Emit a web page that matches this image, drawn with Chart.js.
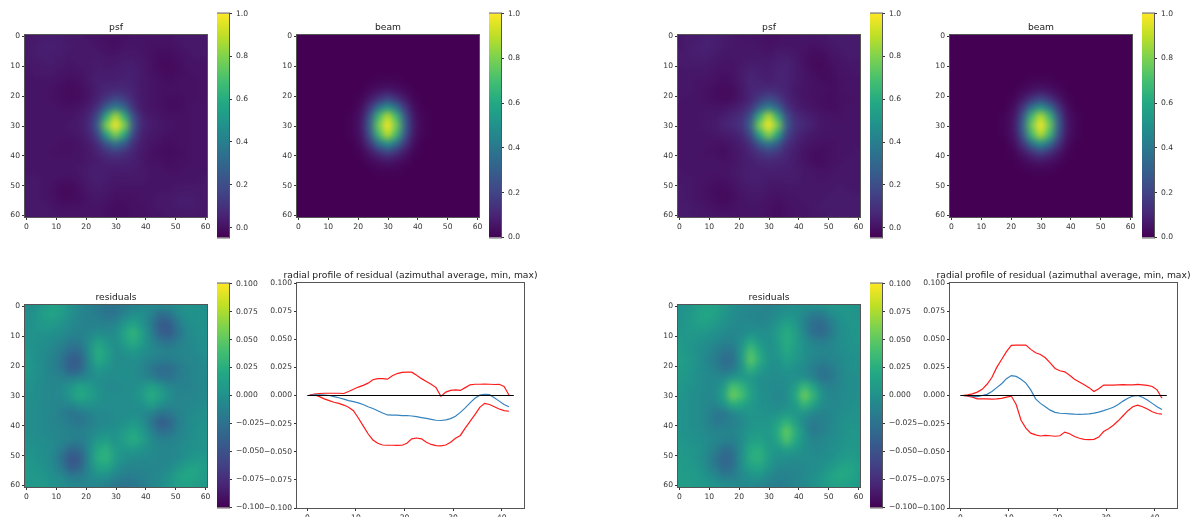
<!DOCTYPE html>
<html>
<head>
<meta charset="utf-8">
<title>psf / beam / residuals</title>
<script src="https://cdn.jsdelivr.net/npm/chart.js@4/dist/chart.umd.min.js"></script>
<style>
html, body { margin: 0; padding: 0; background: #fff; width: 1200px; height: 517px; overflow: hidden; }
canvas { position: absolute; }
</style>
</head>
<body>
<script>
const gridAxis = [0, 3, 6, 9, 12, 15, 18, 21, 24, 27, 30, 33, 36, 39, 42, 45, 48, 51, 54, 57, 60];

// percent of peak
const psfLeft = [
  [2,2,3,3,3,2,2,1,1,0,0,0,1,1,1,1,1,2,2,2,2],
  [2,3,4,4,3,3,2,2,1,0,-1,1,1,1,0,0,0,1,2,2,2],
  [2,3,4,3,3,2,2,2,2,1,1,2,2,1,0,-1,-1,0,1,2,2],
  [2,2,3,3,2,1,2,2,3,2,2,3,3,2,0,-2,-2,-1,1,1,1],
  [1,2,2,2,1,1,1,2,3,3,3,4,4,2,0,-1,-2,-1,0,1,1],
  [1,1,1,1,0,-1,0,2,4,4,4,5,4,2,1,0,-1,0,0,0,1],
  [1,1,1,0,-1,-2,-1,1,4,6,7,7,5,2,1,0,0,0,0,0,1],
  [1,1,1,0,-1,-2,-1,1,5,12,18,14,6,2,1,0,-1,-1,0,0,1],
  [1,1,1,1,0,0,1,3,10,28,40,30,10,2,1,0,-1,-1,0,1,1],
  [1,1,1,1,1,1,2,6,20,60,88,62,20,5,2,1,0,0,0,1,1],
  [1,1,1,1,1,2,3,7,26,80,100,80,24,6,3,2,1,0,0,1,1],
  [1,1,1,1,1,1,2,5,18,56,80,58,17,4,2,1,0,0,0,1,1],
  [1,1,1,1,0,0,1,3,9,24,36,26,9,3,1,0,-1,0,0,1,1],
  [1,1,1,0,0,0,1,2,5,10,14,10,5,2,0,-1,-1,-1,0,1,1],
  [1,1,1,1,1,1,1,2,3,5,5,5,4,2,0,0,-1,0,0,1,1],
  [1,1,1,1,1,1,2,3,4,3,3,3,3,2,1,1,0,0,1,1,1],
  [2,2,1,1,0,0,1,3,4,3,2,2,2,2,1,1,1,1,1,1,2],
  [2,2,1,0,-2,-2,0,2,3,2,1,1,1,1,1,1,1,2,2,2,2],
  [2,2,1,0,-2,-2,-1,1,2,1,0,0,0,1,1,2,2,3,3,3,2],
  [2,2,2,1,0,0,0,1,1,0,-1,-1,0,0,1,2,2,3,3,3,2],
  [2,2,2,2,1,1,1,1,1,0,-1,-1,0,0,1,1,2,2,2,2,2]
];
const psfRight = [
  [2,3,3,4,4,3,2,1,1,1,0,0,1,1,2,2,2,3,3,3,3],
  [2,3,4,5,4,3,2,2,2,1,0,1,1,1,1,0,1,2,3,3,3],
  [3,3,4,4,3,2,2,2,2,2,1,3,3,2,0,-1,-1,1,2,3,3],
  [3,3,3,3,2,1,1,2,3,3,3,4,5,3,0,-2,-2,0,1,2,2],
  [2,2,2,2,1,0,1,3,5,4,3,5,5,3,1,-1,-2,-1,1,1,2],
  [2,2,1,1,0,-1,0,3,6,5,4,5,5,3,1,0,-1,-1,0,1,1],
  [2,2,1,0,-1,-2,-1,2,6,7,8,7,5,2,1,0,0,-1,0,1,1],
  [2,1,1,0,-1,-2,-1,2,6,13,19,14,6,3,1,0,-1,-1,0,0,1],
  [1,1,1,1,1,1,3,5,11,28,42,30,11,4,2,1,0,-1,0,1,1],
  [1,1,1,2,2,4,6,9,22,62,90,62,21,8,5,3,1,1,0,1,1],
  [1,1,1,2,3,5,7,11,28,80,100,80,26,10,7,4,2,1,1,1,1],
  [1,1,1,1,2,3,4,7,19,58,82,58,18,7,4,2,1,1,1,1,1],
  [1,1,1,1,0,0,2,4,10,26,38,27,10,5,2,1,0,0,1,1,1],
  [1,1,1,0,0,-1,1,3,6,11,15,12,6,3,1,-1,-1,0,1,1,2],
  [1,1,1,1,1,0,1,3,4,6,7,6,5,3,1,-1,-1,0,1,2,2],
  [2,1,1,1,1,1,2,3,4,4,4,4,4,3,2,1,0,1,2,2,2],
  [2,2,1,1,0,0,1,3,4,4,3,3,3,3,2,2,1,2,2,2,2],
  [3,2,1,0,-1,-1,0,2,3,3,2,1,2,2,2,2,2,2,3,2,2],
  [3,2,1,0,-1,-2,-1,1,2,2,1,0,1,1,2,2,2,3,3,3,3],
  [3,3,2,1,0,-1,0,1,1,1,0,-1,0,1,1,2,3,3,3,3,3],
  [3,3,2,2,1,1,1,1,1,1,0,-1,0,1,1,2,2,3,3,3,3]
];
const beamValues = [
  [0,0,0,0,0,0,0,0,0,0,0,0,0,0,0,0,0,0,0,0,0],
  [0,0,0,0,0,0,0,0,0,0,0,0,0,0,0,0,0,0,0,0,0],
  [0,0,0,0,0,0,0,0,0,0,0,0,0,0,0,0,0,0,0,0,0],
  [0,0,0,0,0,0,0,0,0,0,0,0,0,0,0,0,0,0,0,0,0],
  [0,0,0,0,0,0,0,0,0,0,0,0,0,0,0,0,0,0,0,0,0],
  [0,0,0,0,0,0,0,0,0,1,1,1,0,0,0,0,0,0,0,0,0],
  [0,0,0,0,0,0,0,0,2,4,6,4,2,0,0,0,0,0,0,0,0],
  [0,0,0,0,0,0,0,1,6,14,20,14,6,1,0,0,0,0,0,0,0],
  [0,0,0,0,0,0,0,3,15,38,52,38,15,3,0,0,0,0,0,0,0],
  [0,0,0,0,0,0,1,5,26,68,90,68,26,5,1,0,0,0,0,0,0],
  [0,0,0,0,0,0,1,6,30,78,100,78,30,6,1,0,0,0,0,0,0],
  [0,0,0,0,0,0,1,5,26,68,90,68,26,5,1,0,0,0,0,0,0],
  [0,0,0,0,0,0,0,3,15,38,52,38,15,3,0,0,0,0,0,0,0],
  [0,0,0,0,0,0,0,1,6,14,20,14,6,1,0,0,0,0,0,0,0],
  [0,0,0,0,0,0,0,0,2,4,6,4,2,0,0,0,0,0,0,0,0],
  [0,0,0,0,0,0,0,0,0,1,1,1,0,0,0,0,0,0,0,0,0],
  [0,0,0,0,0,0,0,0,0,0,0,0,0,0,0,0,0,0,0,0,0],
  [0,0,0,0,0,0,0,0,0,0,0,0,0,0,0,0,0,0,0,0,0],
  [0,0,0,0,0,0,0,0,0,0,0,0,0,0,0,0,0,0,0,0,0],
  [0,0,0,0,0,0,0,0,0,0,0,0,0,0,0,0,0,0,0,0,0],
  [0,0,0,0,0,0,0,0,0,0,0,0,0,0,0,0,0,0,0,0,0]
];

// thousandths
const residualsLeft = [
  [-5,-2,8,14,10,0,-8,-14,-18,-24,-24,-18,-12,-8,-6,-6,-6,-2,2,0,-2],
  [-4,2,12,16,10,-2,-10,-14,-16,-24,-22,-10,-2,-2,-12,-32,-26,-8,0,2,0],
  [-2,2,8,8,2,-6,-10,-12,-12,-14,-10,6,16,2,-18,-42,-42,-18,-4,0,0],
  [0,2,2,0,-4,-10,-12,-10,-4,-6,-4,16,30,12,-14,-40,-44,-24,-8,-2,0],
  [2,0,-2,-6,-10,-18,-18,-4,14,4,-4,12,24,8,-8,-22,-26,-16,-8,-4,0],
  [4,0,-4,-10,-18,-30,-30,-4,24,12,-4,2,8,0,-6,-10,-12,-10,-8,-6,-2],
  [6,0,-6,-12,-24,-42,-40,-8,22,12,-4,-4,-2,-6,-12,-16,-16,-12,-10,-8,-4],
  [6,2,-6,-12,-22,-42,-36,-10,8,2,-4,-2,-4,-10,-22,-30,-30,-20,-12,-8,-6],
  [4,0,-6,-10,-12,-16,-12,-6,-2,-4,-4,-2,-4,-8,-14,-24,-26,-16,-12,-8,-6],
  [2,-2,-6,-8,-6,4,16,10,0,-6,-6,-4,-4,4,14,4,-8,-12,-12,-10,-6],
  [0,-2,-6,-8,-6,6,22,14,4,-4,-4,-4,-2,8,24,12,-2,-10,-10,-8,-6],
  [-2,-4,-6,-8,-10,-8,2,2,-2,-4,-4,-4,-2,0,12,0,-8,-10,-8,-6,-4],
  [-2,-4,-6,-8,-16,-24,-20,-12,-6,-6,-4,-4,-2,-6,-12,-24,-22,-12,-6,-4,-2],
  [-2,-4,-6,-10,-12,-18,-24,-16,-8,-6,-4,0,6,-2,-22,-42,-36,-16,-6,-2,0],
  [-2,-4,-6,-8,-10,-12,-14,-10,-4,0,0,10,18,8,-12,-28,-26,-12,-6,0,2],
  [0,-2,-4,-6,-10,-14,-16,-8,8,10,2,12,24,12,-4,-12,-12,-8,-4,0,2],
  [2,0,-2,-6,-16,-34,-30,-6,20,26,8,4,8,2,-4,-8,-8,-6,-2,2,2],
  [4,2,-2,-8,-26,-48,-42,-8,24,28,10,-2,-4,-6,-6,-8,-8,-6,0,6,6],
  [6,4,0,-6,-18,-44,-36,-8,14,18,2,-8,-10,-10,-8,-8,-6,4,14,16,10],
  [6,6,4,-2,-8,-18,-18,-8,0,0,-10,-16,-16,-12,-10,-6,2,14,20,16,8],
  [6,6,6,2,-2,-6,-8,-8,-10,-14,-22,-24,-22,-16,-10,-4,4,12,14,10,4]
];
const residualsRight = [
  [0,2,10,14,14,6,0,-6,-8,-10,-12,-8,-4,-2,-2,0,2,6,6,4,2],
  [0,4,14,18,14,4,-4,-8,-8,-12,-10,-4,2,0,-8,-20,-18,-6,2,4,2],
  [2,6,12,14,8,0,-4,-6,-6,-8,-6,4,16,6,-12,-30,-32,-16,-2,4,4],
  [4,6,6,4,0,-6,-8,-6,0,-2,-2,10,24,12,-8,-28,-32,-18,-4,2,4],
  [8,4,2,-2,-6,-12,-12,0,22,6,-2,8,24,12,-2,-12,-16,-10,-2,2,4],
  [10,4,0,-6,-12,-22,-22,4,42,18,0,4,22,10,0,-6,-8,-8,-4,0,2],
  [12,6,0,-8,-16,-30,-28,6,50,24,2,0,14,6,-2,-10,-14,-10,-6,-2,0],
  [10,6,0,-6,-12,-24,-20,2,30,10,0,-2,4,0,-6,-16,-24,-18,-8,-2,0],
  [8,4,-2,-6,-6,-6,4,8,6,0,-4,-4,-2,-2,-2,-12,-26,-22,-8,-4,-2],
  [6,2,-2,-6,-6,8,42,30,10,-2,-4,-6,-4,10,34,16,-8,-14,-8,-4,-2],
  [4,0,-4,-6,-6,14,56,40,14,0,-4,-8,-4,18,56,30,0,-10,-6,-4,-2],
  [2,0,-4,-8,-10,2,24,18,8,0,-2,-6,-2,8,32,14,-4,-8,-6,-2,0],
  [2,0,-4,-8,-20,-22,-10,-2,4,2,0,2,8,6,2,-8,-12,-8,-4,0,2],
  [2,0,-4,-8,-20,-18,-14,-6,2,4,4,14,30,12,-8,-18,-14,-8,-2,2,2],
  [2,0,-2,-6,-10,-10,-10,-4,6,8,6,22,52,24,-2,-20,-14,-6,-2,4,4],
  [4,2,0,-4,-8,-12,-14,-4,12,14,6,16,44,20,0,-10,-8,-4,0,4,4],
  [6,4,2,-4,-14,-28,-24,-2,22,24,10,4,12,8,-2,-6,-6,-2,2,6,6],
  [8,6,2,-6,-22,-36,-30,-2,24,28,10,-2,-2,-4,-4,-4,-4,0,6,10,8],
  [10,8,4,-4,-18,-32,-26,-2,14,18,4,-6,-8,-8,-6,-4,0,8,16,18,12],
  [10,10,8,0,-6,-18,-16,-6,2,4,-6,-12,-12,-10,-6,-2,6,16,22,18,10],
  [10,10,8,6,2,-2,-4,-6,-6,-10,-14,-16,-14,-10,-6,0,6,12,14,12,8]
];

// radial profiles, thousandths
const radii = [0.5,1.5,2.5,3.5,4.5,5.5,6.5,7.5,8.5,9.5,10.5,11.5,12.5,13.5,14.5,15.5,16.5,17.5,18.5,19.5,20.5,21.5,22.5,23.5,24.5,25.5,26.5,27.5,28.5,29.5,30.5,31.5,32.5,33.5,34.5,35.5,36.5,37.5,38.5,39.5,40.5,41.5];
const zeroLineX = [0, 42.5];
const zeroLineY = [0, 0];
const maxLeft = [0.3,1.2,1.8,2,2,2,2,1.8,3.5,5.5,7.5,9,11,14,15,15,14.5,17.5,19.5,20.5,20.8,20.7,18,15,12.5,10,7,-0.8,3,4.5,5,4.5,7,9.5,10,10,10.2,10,9.8,10,8,0.5];
const minLeft = [0.2,0.8,-1,-3,-4.5,-6,-7,-8.5,-10.5,-13.5,-20,-27,-34,-39.5,-42.5,-44,-44.2,-44.2,-44.3,-44.2,-42.5,-38.5,-37.8,-38.5,-41.5,-43.5,-44.5,-44.8,-44,-41.5,-38,-35.5,-29,-23,-17,-10.5,-7,-8,-10,-12,-13.5,-14];
const avgLeft = [0.1,0.5,0.5,0.3,0,-1,-2,-3.2,-4.5,-5.5,-6.5,-8,-10,-11.5,-13.5,-15.5,-17.3,-17.5,-17.5,-17.8,-17.8,-18.2,-18.8,-19.6,-20.4,-21.2,-22,-22.2,-21.6,-20.5,-18.5,-15,-11,-6.5,-2.5,0.3,1,0.7,-2,-5,-8,-10];
const maxRight = [0,0.5,1.5,3,5.5,10,16,25,32,39,44.5,44.8,44.8,44.8,41,38,36.5,33.5,29,24,22,21,18,14.5,12,9.5,7,3.5,6,9.3,9.3,9.3,9.5,9.7,9.5,9.5,9.8,9.5,9,8,5,-2.5];
const minRight = [0,-0.5,-1.5,-3,-3,-3,-3.2,-3,-2.5,-1.5,-0.5,-8,-22,-29,-33.5,-35,-36,-35.5,-35.8,-36.2,-35.8,-32.5,-34,-36.5,-38,-39,-39.3,-39,-37,-32,-29.5,-26.5,-22.5,-18,-13.5,-10,-8.5,-10,-12,-14.5,-16,-16.5];
const avgRight = [0,-0.2,-0.8,-1,0,1,3.5,7,10.5,15,17.7,17,14.5,11,5,-3,-7,-10,-13,-15,-15.8,-16,-16.3,-16.6,-16.7,-16.6,-16.3,-15.7,-14.8,-13.5,-12,-10.5,-8,-5,-2.5,-0.5,0,-1.5,-4,-7,-10,-12.5];

// tick labels
const imageTicks = [0, 10, 20, 30, 40, 50, 60];
const profileXTicks = [0, 10, 20, 30, 40];
const unitTicks = [0, 0.2, 0.4, 0.6, 0.8, 1];
const residualTicks = [-0.1, -0.075, -0.05, -0.025, 0, 0.025, 0.05, 0.075, 0.1];

const viridis = ['#440154', '#482576', '#414487', '#355f8d', '#2a788e', '#21918c', '#22a884', '#44bf70', '#7ad151', '#bddf26', '#fde725'];
const viridisRgb = viridis.map(c => [1, 3, 5].map(i => parseInt(c.substr(i, 2), 16)));

const TICK_FONT = { family: "'DejaVu Sans'", size: 7.6 };
const INK = '#333';
const SPINE = '#555';

function colorAt(t) {
    const p = Math.min(Math.max(t, 0), 1) * (viridisRgb.length - 1);
    const i = Math.min(Math.floor(p), viridisRgb.length - 2);
    const f = p - i;
    const a = viridisRgb[i], b = viridisRgb[i + 1];
    return `rgb(${a.map((v, k) => Math.round(v + (b[k] - v) * f)).join(',')})`;
}

function addCanvas(left, top, width, height) {
    const canvas = document.createElement('canvas');
    canvas.width = width;
    canvas.height = height;
    canvas.style.left = left + 'px';
    canvas.style.top = top + 'px';
    canvas.style.width = width + 'px';
    canvas.style.height = height + 'px';
    document.body.appendChild(canvas);
    return canvas.getContext('2d');
}

const framePlugin = {
    id: 'frame',
    afterDraw(chart) {
        const { ctx, chartArea: a } = chart;
        ctx.save();
        ctx.strokeStyle = SPINE;
        ctx.lineWidth = 1;
        ctx.strokeRect(a.left - 0.5, a.top - 0.5, a.width + 1, a.height + 1);
        ctx.restore();
    }
};

// the reference was resampled, so soften the square cells a little
const smoothPlugin = {
    id: 'smooth',
    afterDatasetsDraw(chart) {
        const { ctx, chartArea: a } = chart;
        ctx.save();
        ctx.beginPath();
        ctx.rect(a.left, a.top, a.width, a.height);
        ctx.clip();
        ctx.filter = 'blur(3.5px)';
        ctx.drawImage(chart.canvas, a.left, a.top, a.width, a.height, a.left, a.top, a.width, a.height);
        ctx.restore();
    }
};

function fixedTicks(values, callback, padding) {
    return {
        afterBuildTicks: scale => { scale.ticks = values.map(value => ({ value })); },
        grid: { drawOnChartArea: false, drawTicks: true, tickLength: 3, tickColor: INK, tickWidth: 1 },
        border: { display: false },
        ticks: { font: TICK_FONT, color: INK, padding: padding || 2, maxRotation: 0, autoSkip: false, callback }
    };
}

function titleOptions(text, fullSize) {
    return {
        display: !!text,
        text,
        fullSize,
        color: '#222',
        font: { family: "'DejaVu Sans'", size: 9.2, lineHeight: '12px', weight: 'normal' },
        padding: { top: 1, bottom: 1 }
    };
}

function baseOptions() {
    return {
        responsive: false,
        animation: false,
        devicePixelRatio: 1,
        events: [],
        layout: { autoPadding: false }
    };
}

function drawImagePanel(left, top, size, title, rows, vmin, vmax, unit) {
    const ml = 22, mt = 14, mr = 6, mb = 16;
    const ctx = addCanvas(left - ml, top - mt, size + ml + mr, size + mt + mb);
    const cells = [];
    rows.forEach((row, j) => row.forEach((v, i) => {
        cells.push({ x: gridAxis[i], y: gridAxis[j], v: v * unit });
    }));
    new Chart(ctx, {
        type: 'scatter',
        data: {
            datasets: [{
                data: cells,
                clip: 0,
                pointStyle: 'rect',
                borderWidth: 0,
                pointBorderWidth: 0,
                pointRadius: c => {
                    const s = c.chart.scales.x;
                    return (Math.abs(s.getPixelForValue(3) - s.getPixelForValue(0)) / 2 + 0.5) * Math.SQRT2;
                },
                pointBackgroundColor: c => colorAt((c.raw.v - vmin) / (vmax - vmin))
            }]
        },
        options: {
            ...baseOptions(),
            layout: { autoPadding: false, padding: { right: mr } },
            plugins: { legend: { display: false }, tooltip: { enabled: false }, title: titleOptions(title, false) },
            scales: {
                x: {
                    type: 'linear', min: -0.5, max: 60.5,
                    afterFit: s => { s.height = mb; },
                    ...fixedTicks(imageTicks, v => String(v))
                },
                y: {
                    type: 'linear', min: -0.5, max: 60.5, reverse: true,
                    afterFit: s => { s.width = ml; },
                    ...fixedTicks(imageTicks, v => String(v))
                }
            }
        },
        plugins: [smoothPlugin, framePlugin]
    });
}

function drawColorbar(left, top, width, height, vmin, vmax, tickValues, digits) {
    const mt = 8, mb = 8, mr = 44;
    const ctx = addCanvas(left, top - mt, width + mr, height + mt + mb);
    new Chart(ctx, {
        type: 'bar',
        data: {
            labels: [''],
            datasets: [{
                data: [[vmin, vmax]],
                barPercentage: 1,
                categoryPercentage: 1,
                backgroundColor: c => {
                    const a = c.chart.chartArea;
                    if (!a) return viridis[5];
                    const g = c.chart.ctx.createLinearGradient(0, a.bottom, 0, a.top);
                    viridis.forEach((col, i) => g.addColorStop(i / (viridis.length - 1), col));
                    return g;
                }
            }]
        },
        options: {
            ...baseOptions(),
            layout: { autoPadding: false, padding: { top: mt, bottom: mb } },
            plugins: { legend: { display: false }, tooltip: { enabled: false } },
            scales: {
                x: { display: false },
                y: {
                    type: 'linear', position: 'right', min: vmin, max: vmax,
                    afterFit: s => { s.width = mr; },
                    ...fixedTicks(tickValues, v => v.toFixed(digits).replace('-', '\u2212'), 4)
                }
            }
        },
        plugins: [framePlugin]
    });
}

function drawProfile(left, top, width, height, title, maxValues, minValues, avgValues) {
    // same margin both sides so the long title stays centred over the axes
    const ml = 40, mt = 14, mr = 40, mb = 16;
    const ctx = addCanvas(left - ml, top - mt, width + ml + mr, height + mt + mb);
    const series = values => radii.map((r, i) => ({ x: r, y: values[i] / 1000 }));
    const line = (data, color) => ({
        data, borderColor: color, borderWidth: 1.2, pointRadius: 0, tension: 0, fill: false
    });
    new Chart(ctx, {
        type: 'line',
        data: {
            datasets: [
                line(zeroLineX.map((x, i) => ({ x, y: zeroLineY[i] })), '#000'),
                line(series(avgValues), '#3583bd'),
                line(series(maxValues), '#ff1a1a'),
                line(series(minValues), '#ff1a1a')
            ]
        },
        options: {
            ...baseOptions(),
            plugins: { legend: { display: false }, tooltip: { enabled: false }, title: titleOptions(title, true) },
            scales: {
                x: {
                    type: 'linear', min: -2.12, max: 44.6,
                    afterFit: s => { s.height = mb; },
                    ...fixedTicks(profileXTicks, v => String(v))
                },
                y: {
                    type: 'linear', min: -0.1, max: 0.1,
                    afterFit: s => { s.width = ml; },
                    ...fixedTicks(residualTicks, v => v.toFixed(3).replace('-', '\u2212'))
                },
                // empty right axis, only reserves the margin
                spacer: {
                    type: 'linear', position: 'right', display: true,
                    grid: { display: false }, border: { display: false }, ticks: { display: false },
                    afterFit: s => { s.width = mr; }
                }
            }
        },
        plugins: [framePlugin]
    });
}

const PROFILE_TITLE = 'radial profile of residual (azimuthal average, min, max)';

drawImagePanel(25, 35, 182, 'psf', psfLeft, -0.046, 1, 0.01);
drawColorbar(217, 13, 12, 225, -0.046, 1, unitTicks, 1);
drawImagePanel(297, 35, 182, 'beam', beamValues, 0, 1, 0.01);
drawColorbar(489, 13, 12, 225, 0, 1, unitTicks, 1);
drawImagePanel(678, 35, 182, 'psf', psfRight, -0.045, 1, 0.01);
drawColorbar(870, 13, 12, 225, -0.045, 1, unitTicks, 1);
drawImagePanel(950, 35, 182, 'beam', beamValues, 0, 1, 0.01);
drawColorbar(1142, 13, 12, 225, 0, 1, unitTicks, 1);

drawImagePanel(25, 305, 182, 'residuals', residualsLeft, -0.1, 0.1, 0.001);
drawColorbar(217, 283, 12, 225, -0.1, 0.1, residualTicks, 3);
drawProfile(297, 283, 227, 225, PROFILE_TITLE, maxLeft, minLeft, avgLeft);
drawImagePanel(678, 305, 182, 'residuals', residualsRight, -0.1, 0.1, 0.001);
drawColorbar(870, 283, 12, 225, -0.1, 0.1, residualTicks, 3);
drawProfile(950, 283, 227, 225, PROFILE_TITLE, maxRight, minRight, avgRight);
</script>
</body>
</html>
